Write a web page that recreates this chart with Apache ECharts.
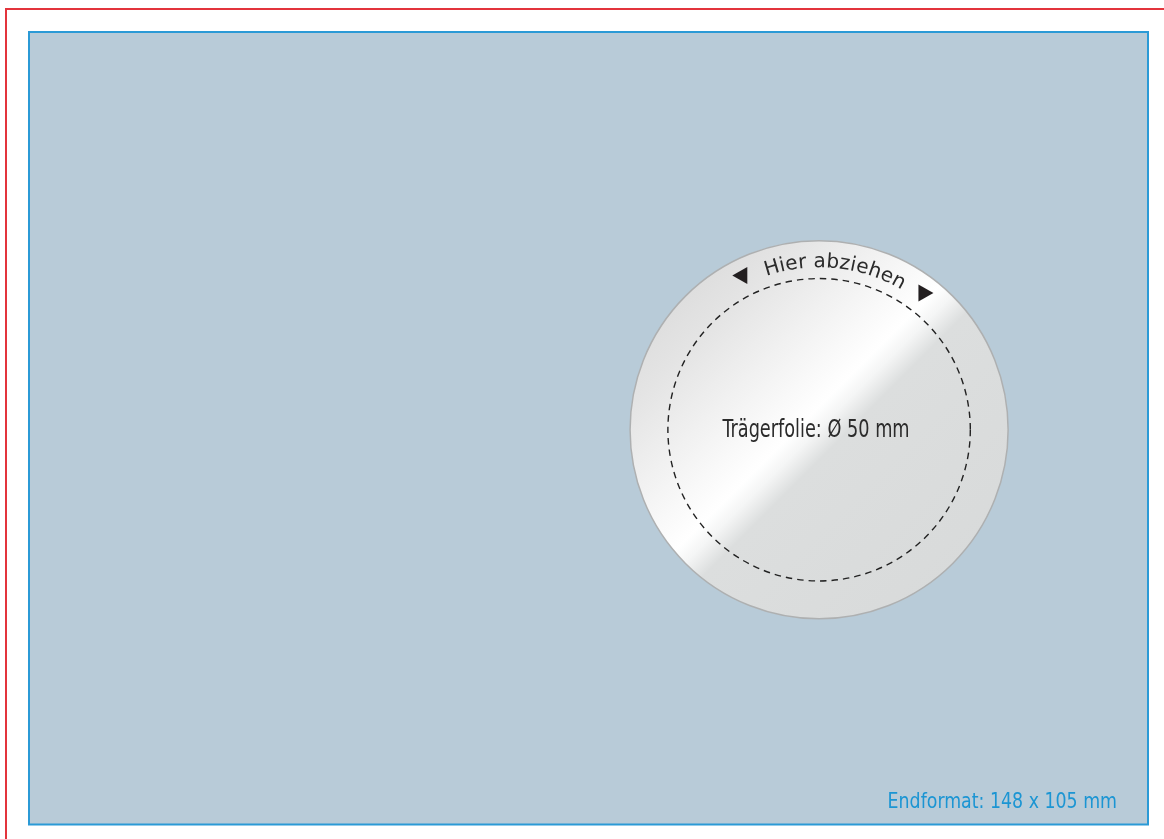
<!DOCTYPE html>
<html>
<head>
<meta charset="utf-8">
<title>Trägerfolie Ø 50 mm</title>
<script src="https://cdn.jsdelivr.net/npm/echarts@6/dist/echarts.min.js"></script>
<style>
  html, body { margin: 0; padding: 0; background: #fff; }
  #chart { width: 1164px; height: 839px; }
</style>
</head>
<body>
<div id="chart"></div>
<script>
// sheet (mm)
const formatSize = [148, 105];
// carrier foil: centre and diameters (mm)
const foilCenter = [104.5, 52.7];
const foilDiameter = [50];
const perforationDiameter = [40];
// texts
const foilLabel = 'Trägerfolie: Ø 50 mm';
const peelLabel = 'Hier abziehen';
const formatLabel = 'Endformat: 148 x 105 mm';

const chart = echarts.init(document.getElementById('chart'));

const measureCtx = document.createElement('canvas').getContext('2d');
const peelFontSize = 20;
const peelFamily = '"DejaVu Sans", Verdana, sans-serif';
const narrowFamily = '"Liberation Sans Narrow", "DejaVu Sans Condensed", "Roboto", sans-serif';

const deg = a => a * Math.PI / 180;

function triangle(p, dir) {
  // dir -1 points left, 1 points right
  const d = 7.5, h = 8.5;
  return {
    type: 'polygon',
    shape: { points: [[p[0] + dir * d, p[1]], [p[0] - dir * d, p[1] - h], [p[0] - dir * d, p[1] + h]] },
    style: { fill: '#231f20' }
  };
}

function renderFoil(params, api) {
  const c = api.coord([api.value(0), api.value(1)]);
  const mm = api.size([1, 0])[0];
  const r = api.value(2) / 2 * mm;
  const rDash = api.value(3) / 2 * mm;
  const polar = (rad, a) => [c[0] + rad * Math.sin(a), c[1] - rad * Math.cos(a)];

  // peel text set on an arc
  measureCtx.font = peelFontSize + 'px ' + peelFamily;
  const chars = peelLabel.split('');
  const widths = chars.map(ch => measureCtx.measureText(ch).width);
  const rBase = 21.4 * mm;
  const a0 = deg(-19), a1 = deg(30.5);
  const total = widths.reduce((s, w) => s + w, 0);
  const gap = Math.max(0, ((a1 - a0) * rBase - total) / (chars.length - 1));
  const aStart = (a0 + a1) / 2 - (total + gap * (chars.length - 1)) / 2 / rBase;
  const rText = rBase + 0.3 * peelFontSize;
  let run = 0;
  const letters = chars.map((ch, i) => {
    const mid = run + widths[i] / 2;
    run += widths[i] + gap;
    const a = aStart + mid / rBase;
    const p = polar(rText, a);
    return {
      type: 'text',
      x: p[0], y: p[1],
      rotation: -a,
      style: {
        text: ch, x: 0, y: 0,
        align: 'center', verticalAlign: 'middle',
        fontSize: peelFontSize, fontFamily: peelFamily,
        fill: '#2b2b2b'
      }
    };
  });

  return {
    type: 'group',
    children: [
      {
        type: 'circle',
        shape: { cx: c[0], cy: c[1], r: r },
        style: {
          fill: {
            type: 'linear', x: 0, y: 0, x2: 1, y2: 1,
            colorStops: [
              { offset: 0, color: '#d2d2d2' },
              { offset: 0.22, color: '#e4e4e4' },
              { offset: 0.47, color: '#ffffff' },
              { offset: 0.5, color: '#f4f5f5' },
              { offset: 0.54, color: '#dcdede' },
              { offset: 1, color: '#d7d9d9' }
            ]
          },
          stroke: '#aeb0b1',
          lineWidth: 1.5
        }
      },
      {
        type: 'circle',
        shape: { cx: c[0], cy: c[1], r: rDash },
        style: { fill: null, stroke: '#222222', lineWidth: 1.4, lineDash: [6.5, 5] }
      },
      triangle(polar(22.95 * mm, deg(-27.2)), -1),
      triangle(polar(22.95 * mm, deg(38)), 1),
      {
        type: 'text',
        x: c[0] - 3, y: c[1] + 1.5,
        scaleX: 0.82,
        style: {
          text: foilLabel, x: 0, y: 0, align: 'center', verticalAlign: 'middle',
          fontSize: 24, fontFamily: narrowFamily, fill: '#2b2b2b'
        }
      }
    ].concat(letters)
  };
}

chart.setOption({
  animation: false,
  grid: {
    left: 29, top: 32, width: 1119, height: 792.5,
    show: true,
    backgroundColor: '#b8cbd8',
    borderColor: '#2b9ad6',
    borderWidth: 2
  },
  xAxis: { type: 'value', min: 0, max: formatSize[0], show: false },
  yAxis: { type: 'value', min: 0, max: formatSize[1], inverse: true, show: false },
  graphic: [
    {
      type: 'rect',
      shape: { x: 6, y: 9, width: 1300, height: 1000 },
      style: { fill: null, stroke: '#e3343c', lineWidth: 2 },
      silent: true
    },
    {
      type: 'text',
      x: 1117, y: 803,
      scaleX: 0.92,
      style: {
        text: formatLabel, x: 0, y: 0, align: 'right', verticalAlign: 'middle',
        fontSize: 21, fontFamily: narrowFamily, fill: '#1b95d3'
      },
      z: 10
    }
  ],
  series: [
    {
      type: 'custom',
      coordinateSystem: 'cartesian2d',
      silent: true,
      renderItem: renderFoil,
      data: [[foilCenter[0], foilCenter[1], foilDiameter[0], perforationDiameter[0]]]
    }
  ]
});
</script>
</body>
</html>
